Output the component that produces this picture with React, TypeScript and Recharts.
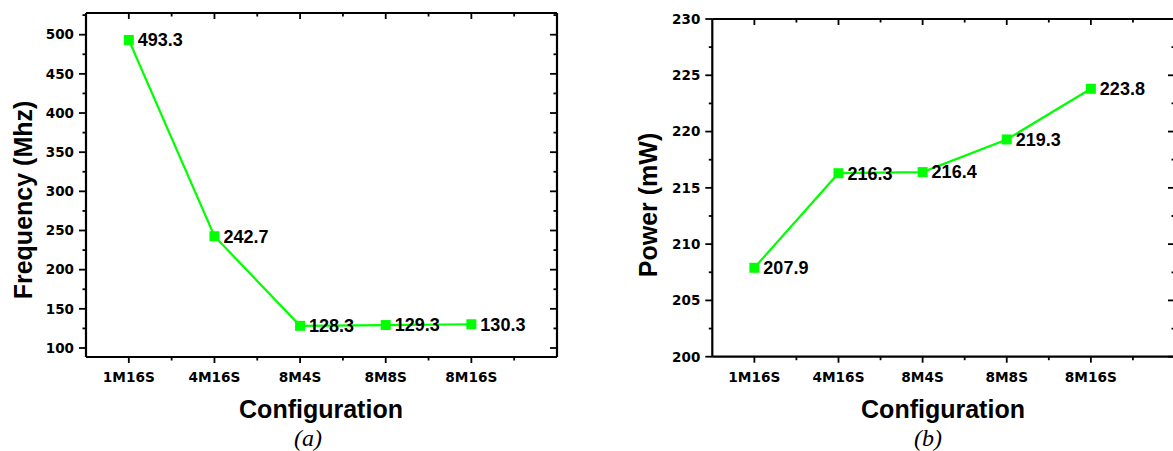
import React from 'react';
import { LineChart, Line, XAxis, YAxis, LabelList, Label } from 'recharts';

// ---- data ----
const configurations = ['1M16S', '4M16S', '8M4S', '8M8S', '8M16S'];
const frequencyMhz = [493.3, 242.7, 128.3, 129.3, 130.3];
const powerMw = [207.9, 216.3, 216.4, 219.3, 223.8];
const xTicks = [1, 1.5, 2, 2.5, 3, 3.5, 4, 4.5, 5, 5.5];
const freqTicks = [100, 125, 150, 175, 200, 225, 250, 275, 300, 325, 350, 375, 400, 425, 450, 475, 500, 525];
const powerTicks = [200, 202.5, 205, 207.5, 210, 212.5, 215, 217.5, 220, 222.5, 225, 227.5, 230];

const freqData = configurations.map((c, i) => ({ pos: i + 1, name: c, value: frequencyMhz[i] }));
const powerData = configurations.map((c, i) => ({ pos: i + 1, name: c, value: powerMw[i] }));

const GREEN = '#00ff00';
const TICK_FONT = "'DejaVu Sans', sans-serif";
const SANS = "'Liberation Sans', Arial, sans-serif";
const SERIF = "'Liberation Serif', 'Times New Roman', serif";

const isMajorX = (v: number) => Number.isInteger(v);

const BottomTick = (props: any) => {
  const { x, y, payload } = props;
  const v = payload.value;
  const major = isMajorX(v);
  return (
    <g>
      <line x1={x} x2={x} y1={y} y2={y + (major ? 6 : 3.5)} stroke="#000" strokeWidth={1.8} />
      {major && (
        <text x={x} y={y + 25} textAnchor="middle" fontFamily={TICK_FONT} fontWeight="bold" fontSize={13.7} fill="#000">
          {configurations[v - 1]}
        </text>
      )}
    </g>
  );
};

const TopTick = (props: any) => {
  const { x, y, payload } = props;
  const major = isMajorX(payload.value);
  return <line x1={x} x2={x} y1={y} y2={y + (major ? 6 : 3.5)} stroke="#000" strokeWidth={1.8} />;
};

const makeLeftTick = (majorStep: number) => (props: any) => {
  const { x, y, payload } = props;
  const v = payload.value;
  const major = Math.abs(v / majorStep - Math.round(v / majorStep)) < 1e-6;
  return (
    <g>
      <line x1={x} x2={x - (major ? 7 : 3.5)} y1={y} y2={y} stroke="#000" strokeWidth={1.8} />
      {major && (
        <text x={x - 12} y={y + 4.8} textAnchor="end" fontFamily={TICK_FONT} fontWeight="bold" fontSize={13.5} fill="#000">
          {v}
        </text>
      )}
    </g>
  );
};

const makeRightTick = (majorStep: number) => (props: any) => {
  const { x, y, payload } = props;
  const v = payload.value;
  const major = Math.abs(v / majorStep - Math.round(v / majorStep)) < 1e-6;
  return <line x1={x} x2={x - (major ? 7 : 3.5)} y1={y} y2={y} stroke="#000" strokeWidth={1.8} />;
};

const SquareDot = (props: any) => {
  const { cx, cy, index } = props;
  if (cx == null || cy == null) return <g key={`d${index}`} />;
  return <rect key={`d${index}`} x={cx - 5} y={cy - 5} width={10} height={10} fill={GREEN} />;
};

const ValueLabel = (props: any) => {
  const vb = props.viewBox || {};
  const x = props.x ?? vb.x;
  const y = props.y ?? vb.y;
  if (x == null || y == null) return null;
  return (
    <text x={x + 9} y={y + 6.3} fontFamily={SANS} fontWeight="bold" fontSize={18} fill="#000">
      {props.value}
    </text>
  );
};

const axisLineStyle = { stroke: '#000', strokeWidth: 2.2 };

type PanelProps = {
  data: { pos: number; name: string; value: number }[];
  domain: [number, number];
  ticks: number[];
  majorStep: number;
  yTitle: string;
  yTitleX: number;
  yTitleY: number;
  xTitleX: number;
  capX: number;
  caption: string;
  width: number;
  margin: { top: number; right: number; bottom: number; left: number };
};

const Panel = (p: PanelProps) => (
  <LineChart width={p.width} height={451} data={p.data} margin={p.margin}>
    <XAxis
      xAxisId="b"
      dataKey="pos"
      type="number"
      domain={[0.5, 6]}
      allowDataOverflow
      ticks={xTicks}
      interval={0}
      tickSize={0}
      tickMargin={0}
      tickLine={false}
      axisLine={axisLineStyle}
      tick={<BottomTick />}
      height={60}
    >
      <Label
        content={() => (
          <g>
            <text x={p.xTitleX} y={418} textAnchor="middle" fontFamily={SANS} fontWeight="bold" fontSize={25} fill="#000">
              Configuration
            </text>
            <text x={p.capX} y={446} textAnchor="middle" fontFamily={SERIF} fontStyle="italic" fontSize={24} fill="#000">
              {p.caption}
            </text>
          </g>
        )}
      />
    </XAxis>
    <XAxis
      xAxisId="t"
      orientation="top"
      mirror
      dataKey="pos"
      type="number"
      domain={[0.5, 6]}
      allowDataOverflow
      ticks={xTicks}
      interval={0}
      tickSize={0}
      tickMargin={0}
      tickLine={false}
      axisLine={axisLineStyle}
      tick={<TopTick />}
    />
    <YAxis
      yAxisId="l"
      type="number"
      domain={p.domain}
      allowDataOverflow
      ticks={p.ticks}
      interval={0}
      tickSize={0}
      tickMargin={0}
      tickLine={false}
      axisLine={axisLineStyle}
      tick={makeLeftTick(p.majorStep)}
      width={60}
    >
      <Label
        content={() => (
          <text
            transform={`translate(${p.yTitleX},${p.yTitleY}) rotate(-90)`}
            textAnchor="middle"
            fontFamily={SANS}
            fontWeight="bold"
            fontSize={25}
            fill="#000"
          >
            {p.yTitle}
          </text>
        )}
      />
    </YAxis>
    <YAxis
      yAxisId="r"
      orientation="right"
      mirror
      type="number"
      domain={p.domain}
      allowDataOverflow
      ticks={p.ticks}
      interval={0}
      tickSize={0}
      tickMargin={0}
      tickLine={false}
      axisLine={axisLineStyle}
      tick={makeRightTick(p.majorStep)}
    />
    <Line
      xAxisId="b"
      yAxisId="l"
      type="linear"
      dataKey="value"
      stroke={GREEN}
      strokeWidth={2.2}
      dot={SquareDot}
      activeDot={false}
      isAnimationActive={false}
    >
      <LabelList dataKey="value" content={ValueLabel} />
    </Line>
  </LineChart>
);

export default function App() {
  return (
    <div style={{ position: 'absolute', left: 0, top: 0, width: 1173, height: 451, overflow: 'hidden', background: '#fff' }}>
      <div style={{ position: 'absolute', left: 0, top: 0 }}>
        <Panel
          data={freqData}
          domain={[88.5, 527.7]}
          ticks={freqTicks}
          majorStep={50}
          yTitle="Frequency (Mhz)"
          yTitleX={31.5}
          yTitleY={200}
          xTitleX={321}
          capX={308}
          caption="(a)"
          width={600}
          margin={{ top: 13, right: 43, bottom: 34, left: 26 }}
        />
      </div>
      <div style={{ position: 'absolute', left: 620, top: 0 }}>
        <Panel
          data={powerData}
          domain={[200, 230]}
          ticks={powerTicks}
          majorStep={5}
          yTitle="Power (mW)"
          yTitleX={37}
          yTitleY={205}
          xTitleX={323}
          capX={308}
          caption="(b)"
          width={620}
          margin={{ top: 19, right: 65, bottom: 34.3, left: 32.3 }}
        />
      </div>
    </div>
  );
}
